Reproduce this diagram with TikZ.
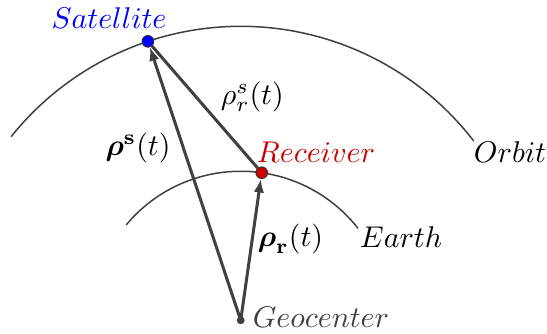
\documentclass[tikz,border=0pt]{standalone}
\usepackage{amsmath}
\usepackage{xcolor}
\usepackage{tikz}
\usetikzlibrary{arrows.meta}

\definecolor{satblue}{RGB}{0,0,255}
\definecolor{recred}{RGB}{204,0,0}
\definecolor{geogray}{RGB}{64,64,64}

\begin{document}
\begin{tikzpicture}[>={Latex[length=4.5pt,width=3.5pt]}, line cap=round,
    arc/.style={geogray, line width=0.5pt},
    vec/.style={geogray, line width=1pt},
    dot/.style={circle, draw=black!80, line width=0.3pt, inner sep=0pt, minimum size=3.9pt}]

% --- Frame ---
\useasboundingbox (-2.820,-0.149) rectangle (3.588,3.752);

% --- Orbit and Earth (both centred on the geocenter) ---
\draw[arc] (37.6:3.444) arc[start angle=37.6, end angle=141.3, radius=3.444];
\draw[arc] (38.2:1.746) arc[start angle=38.2, end angle=140.1, radius=1.746];

% --- Points ---
\node[dot, fill=geogray, draw=geogray, minimum size=2.3pt] (geocenter) at (0,0) {};
\node[dot, fill=satblue] (satellite) at (108.4:3.444) {};
\node[dot, fill=recred] (receiver) at (81.9:1.746) {};

% --- Vectors ---
\draw[vec, ->] (geocenter) -- (satellite);
\draw[vec, ->] (geocenter) -- (receiver);
\draw[vec] (receiver) -- (satellite);

% --- Labels ---
\node[satblue] (satlabel) at (-1.543,3.542) {$Satellite$};
\node[recred] (reclabel) at (0.882,1.972) {$Receiver$};
\node (orbitlabel) at (3.155,1.972) {$Orbit$};
\node (earthlabel) at (1.878,0.976) {$Earth$};
\node[geogray, right, inner sep=1pt] (geolabel) at (0.1,0.04) {$Geocenter$};

\node (satvec) at (-1.203,2.019) {$\boldsymbol{\rho}^{\mathbf{s}}(t)$};
\node (rangevec) at (0.135,2.616) {$\rho_r^s(t)$};
\node (recvec) at (0.583,0.953) {$\boldsymbol{\rho}_{\mathbf{r}}(t)$};

\end{tikzpicture}
\end{document}
